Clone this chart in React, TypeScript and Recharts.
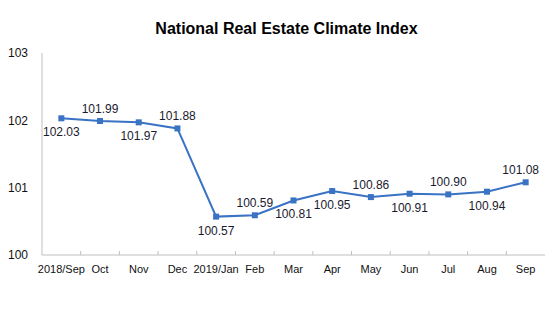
import React from 'react';
import { LineChart, Line, XAxis, YAxis, LabelList } from 'recharts';

const months = [
  '2018/Sep',
  'Oct',
  'Nov',
  'Dec',
  '2019/Jan',
  'Feb',
  'Mar',
  'Apr',
  'May',
  'Jun',
  'Jul',
  'Aug',
  'Sep',
];
const climateIndex = [
  102.03, 101.99, 101.97, 101.88, 100.57, 100.59, 100.81, 100.95, 100.86, 100.91, 100.9, 100.94,
  101.08,
];
const yTicks = [100, 101, 102, 103];
// which data labels sit under the point
const labelsBelow = [0, 2, 4, 6, 7, 9, 11];

const W = 559;
const H = 334;
const BORDER = '#bfbfbf';
const LINE = '#3a72c4';
const FONT = '"Liberation Sans", Arial, sans-serif';

const data = months.map((month, i) => ({ month, value: climateIndex[i] }));

const plotLeft = 42;
const plotRight = 14;
const bandWidth = (W - plotLeft - plotRight) / months.length;

const MonthTick = (props: any) => {
  const { x, y, payload } = props;
  const axisY = y - 6;
  const tx = x - bandWidth / 2;
  return (
    <g>
      {tx > plotLeft + 2 && (
        <line x1={tx} x2={tx} y1={axisY - 4} y2={axisY} stroke={BORDER} />
      )}
      <text x={x} y={y + 12} textAnchor="middle" fontSize={11} fill="#111" fontFamily={FONT}>
        {payload.value}
      </text>
    </g>
  );
};

const ValueLabel = (props: any) => {
  const { x, y, value, index } = props;
  const below = labelsBelow.includes(index);
  const dx = index === months.length - 1 ? -5 : 0;
  return (
    <text
      x={x + dx}
      y={below ? y + 18 : y - 8}
      textAnchor="middle"
      fontSize={12}
      fill="#1a1a2e"
      fontFamily={FONT}
    >
      {Number(value).toFixed(2)}
    </text>
  );
};

export default function App() {
  return (
    <div style={{ position: 'absolute', left: 0, top: 0, width: W, height: H, background: '#fff' }}>
      <div
        style={{
          position: 'absolute',
          top: 20,
          left: 7,
          width: W,
          textAlign: 'center',
          fontFamily: FONT,
          fontWeight: 'bold',
          fontSize: 16,
          color: '#000',
        }}
      >
        National Real Estate Climate Index
      </div>
      <LineChart
        width={W}
        height={H}
        data={data}
        margin={{ top: 53, right: plotRight, left: 0, bottom: 49 }}
      >
        <XAxis
          dataKey="month"
          scale="band"
          stroke={BORDER}
          tickLine={false}
          tickSize={0}
          tickMargin={6}
          interval={0}
          tick={<MonthTick />}
          height={30}
        />
        <XAxis
          xAxisId="top"
          orientation="top"
          dataKey="month"
          scale="band"
          stroke={BORDER}
          tick={false}
          tickLine={false}
          height={0}
        />
        <YAxis
          domain={[100, 103]}
          ticks={yTicks}
          stroke={BORDER}
          tickLine={false}
          tickSize={6}
          tickMargin={8}
          width={plotLeft}
          tick={{ fontSize: 12, fill: '#111', fontFamily: FONT }}
        />
        <YAxis yAxisId="right" orientation="right" stroke={BORDER} tick={false} tickLine={false} width={0} />
        <Line
          dataKey="value"
          stroke={LINE}
          strokeWidth={2}
          isAnimationActive={false}
          dot={(p: any) => (
            <rect key={p.index} x={p.cx - 3} y={p.cy - 3} width={6} height={6} fill={LINE} />
          )}
        >
          <LabelList dataKey="value" content={<ValueLabel />} />
        </Line>
      </LineChart>
    </div>
  );
}
